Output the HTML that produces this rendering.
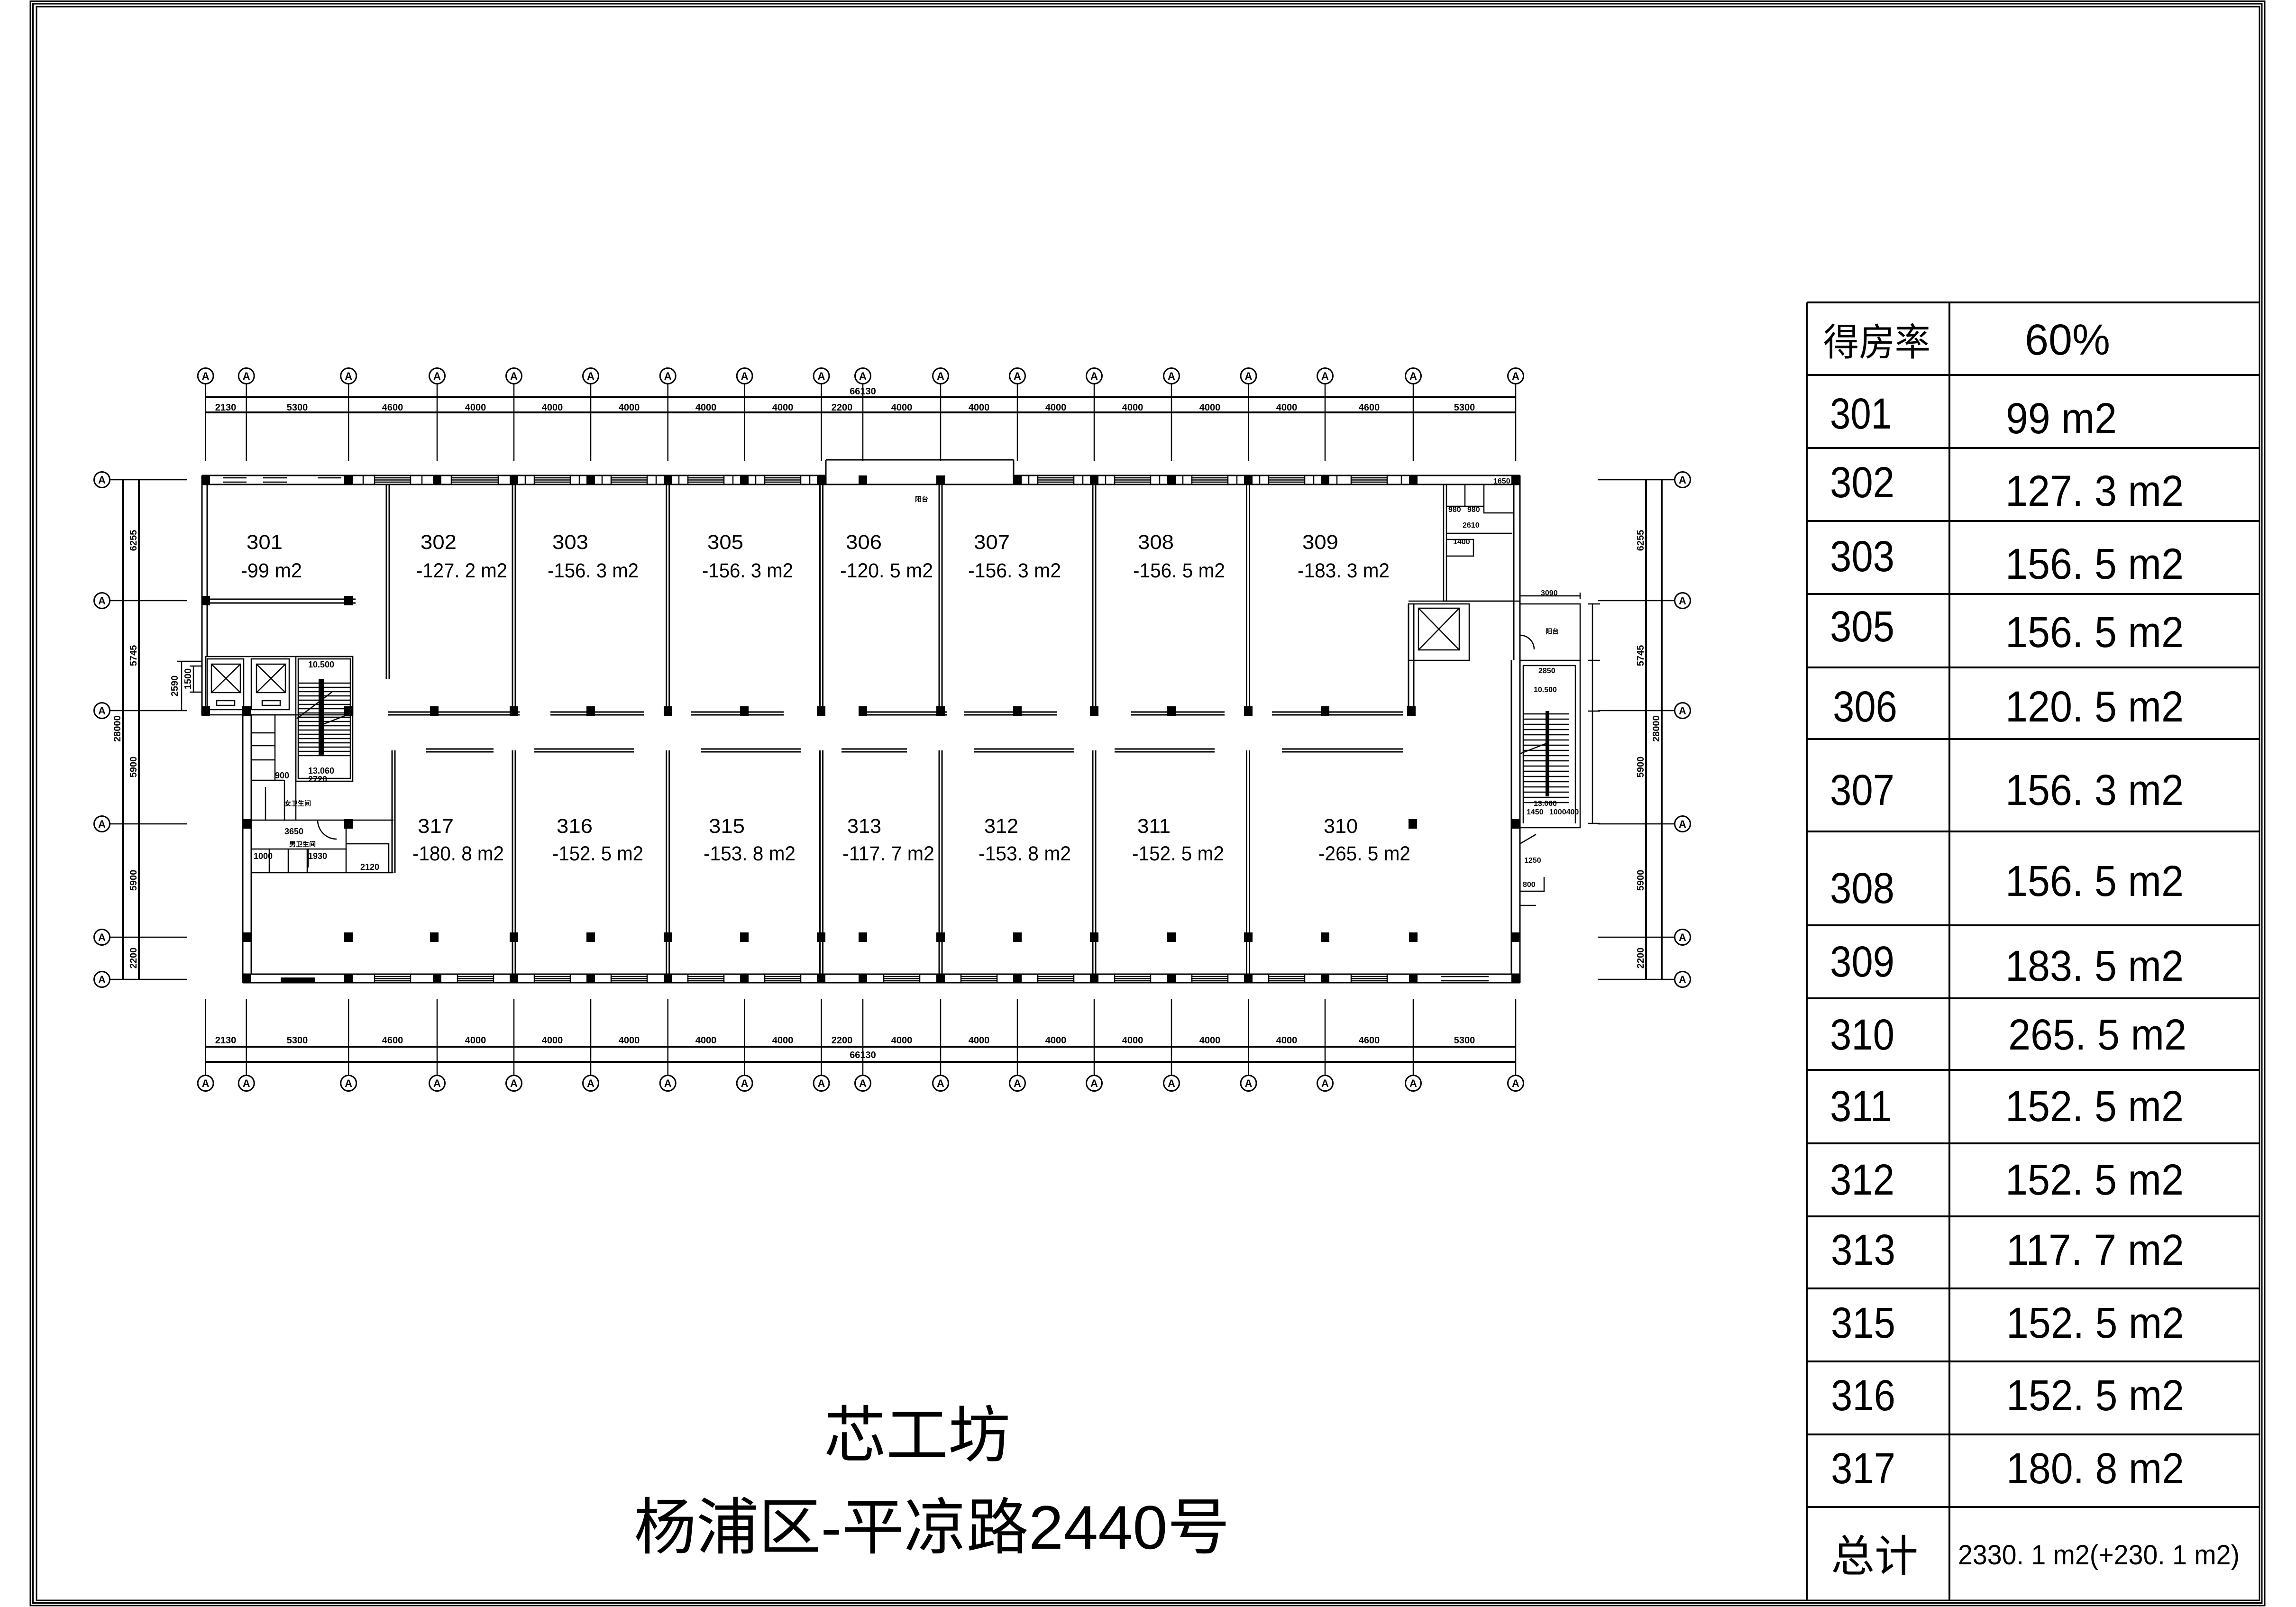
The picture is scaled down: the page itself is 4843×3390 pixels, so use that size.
<!DOCTYPE html>
<html><head><meta charset="utf-8"><style>
html,body{margin:0;padding:0;background:#fff}
svg{display:block}
text{font-family:"Liberation Sans","Noto Sans CJK SC",sans-serif;fill:#000}
</style></head><body>
<svg width="4843" height="3390" viewBox="0 0 4843 3390" xmlns="http://www.w3.org/2000/svg">
<rect width="4843" height="3390" fill="#fff"/>
<!-- border -->
<g fill="none" stroke="#000" stroke-width="3">
<rect x="64" y="2.5" width="4713" height="3384.5"/>
<rect x="69.5" y="8" width="4701.5" height="3373.5"/>
<rect x="77" y="14" width="4689" height="3362"/>
</g>
<!-- table -->
<g stroke="#000" stroke-width="4" fill="none">
<line x1="3811" y1="638" x2="3811" y2="3376"/>
<line x1="4112" y1="638" x2="4112" y2="3376"/>
<line x1="3811" y1="638" x2="4766" y2="638"/>
<line x1="3811" y1="791" x2="4766" y2="791"/>
<line x1="3811" y1="945" x2="4766" y2="945"/>
<line x1="3811" y1="1099" x2="4766" y2="1099"/>
<line x1="3811" y1="1253" x2="4766" y2="1253"/>
<line x1="3811" y1="1408" x2="4766" y2="1408"/>
<line x1="3811" y1="1559" x2="4766" y2="1559"/>
<line x1="3811" y1="1754" x2="4766" y2="1754"/>
<line x1="3811" y1="1952" x2="4766" y2="1952"/>
<line x1="3811" y1="2106" x2="4766" y2="2106"/>
<line x1="3811" y1="2257" x2="4766" y2="2257"/>
<line x1="3811" y1="2412" x2="4766" y2="2412"/>
<line x1="3811" y1="2566" x2="4766" y2="2566"/>
<line x1="3811" y1="2718" x2="4766" y2="2718"/>
<line x1="3811" y1="2872" x2="4766" y2="2872"/>
<line x1="3811" y1="3026" x2="4766" y2="3026"/>
<line x1="3811" y1="3179" x2="4766" y2="3179"/>
</g>
<g font-size="92" lengthAdjust="spacingAndGlyphs">
<text x="3846" y="750" font-size="80" textLength="226" lengthAdjust="spacingAndGlyphs">得房率</text>
<text x="4271" y="748" textLength="180" lengthAdjust="spacingAndGlyphs">60%</text>
<text x="3860" y="904" textLength="130" lengthAdjust="spacingAndGlyphs">301</text>
<text x="4231" y="914" textLength="234" lengthAdjust="spacingAndGlyphs">99 m2</text>
<text x="3860" y="1049" textLength="136" lengthAdjust="spacingAndGlyphs">302</text>
<text x="4230" y="1067" textLength="376" lengthAdjust="spacingAndGlyphs">127. 3 m2</text>
<text x="3860" y="1205" textLength="136" lengthAdjust="spacingAndGlyphs">303</text>
<text x="4230" y="1221" textLength="376" lengthAdjust="spacingAndGlyphs">156. 5 m2</text>
<text x="3860" y="1353" textLength="136" lengthAdjust="spacingAndGlyphs">305</text>
<text x="4230" y="1365" textLength="376" lengthAdjust="spacingAndGlyphs">156. 5 m2</text>
<text x="3866" y="1522" textLength="136" lengthAdjust="spacingAndGlyphs">306</text>
<text x="4230" y="1522" textLength="376" lengthAdjust="spacingAndGlyphs">120. 5 m2</text>
<text x="3860" y="1698" textLength="136" lengthAdjust="spacingAndGlyphs">307</text>
<text x="4230" y="1698" textLength="376" lengthAdjust="spacingAndGlyphs">156. 3 m2</text>
<text x="3860" y="1905" textLength="136" lengthAdjust="spacingAndGlyphs">308</text>
<text x="4230" y="1890" textLength="376" lengthAdjust="spacingAndGlyphs">156. 5 m2</text>
<text x="3860" y="2060" textLength="136" lengthAdjust="spacingAndGlyphs">309</text>
<text x="4230" y="2069" textLength="376" lengthAdjust="spacingAndGlyphs">183. 5 m2</text>
<text x="3860" y="2214" textLength="136" lengthAdjust="spacingAndGlyphs">310</text>
<text x="4236" y="2214" textLength="376" lengthAdjust="spacingAndGlyphs">265. 5 m2</text>
<text x="3860" y="2365" textLength="130" lengthAdjust="spacingAndGlyphs">311</text>
<text x="4230" y="2365" textLength="376" lengthAdjust="spacingAndGlyphs">152. 5 m2</text>
<text x="3860" y="2520" textLength="136" lengthAdjust="spacingAndGlyphs">312</text>
<text x="4230" y="2520" textLength="376" lengthAdjust="spacingAndGlyphs">152. 5 m2</text>
<text x="3862" y="2668" textLength="136" lengthAdjust="spacingAndGlyphs">313</text>
<text x="4232" y="2668" textLength="375" lengthAdjust="spacingAndGlyphs">117. 7 m2</text>
<text x="3862" y="2822" textLength="136" lengthAdjust="spacingAndGlyphs">315</text>
<text x="4232" y="2822" textLength="375" lengthAdjust="spacingAndGlyphs">152. 5 m2</text>
<text x="3862" y="2975" textLength="136" lengthAdjust="spacingAndGlyphs">316</text>
<text x="4232" y="2975" textLength="375" lengthAdjust="spacingAndGlyphs">152. 5 m2</text>
<text x="3862" y="3129" textLength="136" lengthAdjust="spacingAndGlyphs">317</text>
<text x="4232" y="3129" textLength="375" lengthAdjust="spacingAndGlyphs">180. 8 m2</text>
<text x="3862" y="3315" font-size="92" textLength="184" lengthAdjust="spacingAndGlyphs">总计</text>
<text x="4130" y="3300" font-size="58" textLength="594" lengthAdjust="spacingAndGlyphs">2330. 1 m2(+230. 1 m2)</text>
</g>
<!-- title -->
<text x="1738" y="3073" font-size="130" textLength="393" lengthAdjust="spacingAndGlyphs">芯工坊</text>
<text x="1337" y="3267" font-size="130" textLength="1257" lengthAdjust="spacingAndGlyphs">杨浦区-平凉路2440号</text>

<!-- ============ PLAN ============ -->
<!-- top axes -->
<g stroke="#000" stroke-width="2.5" fill="none">
<path d="M433.6 810V972M519.7 810V972M735.2 810V972M922 810V972M1084 810V972M1246 810V972M1408.7 810V972M1570.6 810V972M1732.5 810V972M1820 810V972M1984 810V972M2146 810V972M2308 810V972M2471 810V972M2633.5 810V972M2795 810V972M2981 810V972M3197 810V972"/>
<path d="M433.6 2107V2268M519.7 2107V2268M735.2 2107V2268M922 2107V2268M1084 2107V2268M1246 2107V2268M1408.7 2107V2268M1570.6 2107V2268M1732.5 2107V2268M1820 2107V2268M1984 2107V2268M2146 2107V2268M2308 2107V2268M2471 2107V2268M2633.5 2107V2268M2795 2107V2268M2981 2107V2268M3197 2107V2268"/>
<path d="M231 1012H395M231 1267H395M231 1499H395M231 1738H395M231 1977H395M231 2066H395"/>
<path d="M3370 1012H3533M3370 1267H3533M3370 1499H3533M3370 1738H3533M3370 1977H3533M3370 2066H3533"/>
</g>
<g stroke="#000" stroke-width="4">
<path d="M433.6 838H3197M433.6 870H3197M433.6 2208H3197M433.6 2240H3197"/>
<path d="M259 1012V2066M293 1012V2066M3472 1012V2066M3505 1012V2066"/>
</g>
<g fill="#fff" stroke="#000" stroke-width="3">
<circle cx="433.6" cy="793" r="16.5"/><circle cx="519.7" cy="793" r="16.5"/><circle cx="735.2" cy="793" r="16.5"/><circle cx="922" cy="793" r="16.5"/><circle cx="1084" cy="793" r="16.5"/><circle cx="1246" cy="793" r="16.5"/><circle cx="1408.7" cy="793" r="16.5"/><circle cx="1570.6" cy="793" r="16.5"/><circle cx="1732.5" cy="793" r="16.5"/><circle cx="1820" cy="793" r="16.5"/><circle cx="1984" cy="793" r="16.5"/><circle cx="2146" cy="793" r="16.5"/><circle cx="2308" cy="793" r="16.5"/><circle cx="2471" cy="793" r="16.5"/><circle cx="2633.5" cy="793" r="16.5"/><circle cx="2795" cy="793" r="16.5"/><circle cx="2981" cy="793" r="16.5"/><circle cx="3197" cy="793" r="16.5"/>
<circle cx="433.6" cy="2285" r="16.5"/><circle cx="519.7" cy="2285" r="16.5"/><circle cx="735.2" cy="2285" r="16.5"/><circle cx="922" cy="2285" r="16.5"/><circle cx="1084" cy="2285" r="16.5"/><circle cx="1246" cy="2285" r="16.5"/><circle cx="1408.7" cy="2285" r="16.5"/><circle cx="1570.6" cy="2285" r="16.5"/><circle cx="1732.5" cy="2285" r="16.5"/><circle cx="1820" cy="2285" r="16.5"/><circle cx="1984" cy="2285" r="16.5"/><circle cx="2146" cy="2285" r="16.5"/><circle cx="2308" cy="2285" r="16.5"/><circle cx="2471" cy="2285" r="16.5"/><circle cx="2633.5" cy="2285" r="16.5"/><circle cx="2795" cy="2285" r="16.5"/><circle cx="2981" cy="2285" r="16.5"/><circle cx="3197" cy="2285" r="16.5"/>
<circle cx="215" cy="1012" r="16.5"/><circle cx="215" cy="1267" r="16.5"/><circle cx="215" cy="1499" r="16.5"/><circle cx="215" cy="1738" r="16.5"/><circle cx="215" cy="1977" r="16.5"/><circle cx="215" cy="2066" r="16.5"/>
<circle cx="3549" cy="1012" r="16.5"/><circle cx="3549" cy="1267" r="16.5"/><circle cx="3549" cy="1499" r="16.5"/><circle cx="3549" cy="1738" r="16.5"/><circle cx="3549" cy="1977" r="16.5"/><circle cx="3549" cy="2066" r="16.5"/>
</g>
<g font-size="22" text-anchor="middle" font-weight="bold">
<text x="433.6" y="801">A</text><text x="519.7" y="801">A</text><text x="735.2" y="801">A</text><text x="922" y="801">A</text><text x="1084" y="801">A</text><text x="1246" y="801">A</text><text x="1408.7" y="801">A</text><text x="1570.6" y="801">A</text><text x="1732.5" y="801">A</text><text x="1820" y="801">A</text><text x="1984" y="801">A</text><text x="2146" y="801">A</text><text x="2308" y="801">A</text><text x="2471" y="801">A</text><text x="2633.5" y="801">A</text><text x="2795" y="801">A</text><text x="2981" y="801">A</text><text x="3197" y="801">A</text>
<text x="433.6" y="2293">A</text><text x="519.7" y="2293">A</text><text x="735.2" y="2293">A</text><text x="922" y="2293">A</text><text x="1084" y="2293">A</text><text x="1246" y="2293">A</text><text x="1408.7" y="2293">A</text><text x="1570.6" y="2293">A</text><text x="1732.5" y="2293">A</text><text x="1820" y="2293">A</text><text x="1984" y="2293">A</text><text x="2146" y="2293">A</text><text x="2308" y="2293">A</text><text x="2471" y="2293">A</text><text x="2633.5" y="2293">A</text><text x="2795" y="2293">A</text><text x="2981" y="2293">A</text><text x="3197" y="2293">A</text>
<text x="215" y="1020">A</text><text x="215" y="1275">A</text><text x="215" y="1507">A</text><text x="215" y="1746">A</text><text x="215" y="1985">A</text><text x="215" y="2074">A</text>
<text x="3549" y="1020">A</text><text x="3549" y="1275">A</text><text x="3549" y="1507">A</text><text x="3549" y="1746">A</text><text x="3549" y="1985">A</text><text x="3549" y="2074">A</text>
</g>
<!-- dim texts -->
<g font-size="20" text-anchor="middle" font-weight="bold">
<text x="476" y="866">2130</text><text x="627" y="866">5300</text><text x="828" y="866">4600</text><text x="1003" y="866">4000</text><text x="1165" y="866">4000</text><text x="1327" y="866">4000</text><text x="1489" y="866">4000</text><text x="1651" y="866">4000</text><text x="1776" y="866">2200</text><text x="1902" y="866">4000</text><text x="2065" y="866">4000</text><text x="2227" y="866">4000</text><text x="2389" y="866">4000</text><text x="2552" y="866">4000</text><text x="2714" y="866">4000</text><text x="2888" y="866">4600</text><text x="3089" y="866">5300</text>
<text x="1820" y="832">66130</text>
<text x="476" y="2201">2130</text><text x="627" y="2201">5300</text><text x="828" y="2201">4600</text><text x="1003" y="2201">4000</text><text x="1165" y="2201">4000</text><text x="1327" y="2201">4000</text><text x="1489" y="2201">4000</text><text x="1651" y="2201">4000</text><text x="1776" y="2201">2200</text><text x="1902" y="2201">4000</text><text x="2065" y="2201">4000</text><text x="2227" y="2201">4000</text><text x="2389" y="2201">4000</text><text x="2552" y="2201">4000</text><text x="2714" y="2201">4000</text><text x="2888" y="2201">4600</text><text x="3089" y="2201">5300</text>
<text x="1820" y="2232">66130</text>
<text transform="translate(288 1140) rotate(-90)">6255</text>
<text transform="translate(288 1383) rotate(-90)">5745</text>
<text transform="translate(288 1618) rotate(-90)">5900</text>
<text transform="translate(288 1857) rotate(-90)">5900</text>
<text transform="translate(288 2021) rotate(-90)">2200</text>
<text transform="translate(254 1537) rotate(-90)">28000</text>
<text transform="translate(3467 1140) rotate(-90)">6255</text>
<text transform="translate(3467 1383) rotate(-90)">5745</text>
<text transform="translate(3467 1618) rotate(-90)">5900</text>
<text transform="translate(3467 1857) rotate(-90)">5900</text>
<text transform="translate(3467 2021) rotate(-90)">2200</text>
<text transform="translate(3500 1537) rotate(-90)">28000</text>
<text transform="translate(375 1447) rotate(-90)">2590</text>
<text transform="translate(403 1432) rotate(-90)">1500</text>
</g>
<g stroke="#000" stroke-width="2.5"><path d="M383 1395V1498M374 1395H426M408 1405V1460M400 1405H426M400 1460H426"/></g>

<!-- walls -->
<g stroke="#000" stroke-width="3" fill="none">
<!-- top wall -->
<path d="M426 1003H1742M426 1022H1742M2138 1003H3206M2138 1022H3206"/>
<path d="M1742 970H2138M1742 970V1022M2138 970V1022M1742 1022H2138"/>
<!-- 301 left wall -->
<path d="M426 1003V1508M437 1022V1385"/>
<!-- 301 bottom wall -->
<path d="M437 1264H750M437 1272H750"/>
<!-- bottom wall -->
<path d="M512 2055H3206M512 2073H3206"/>
<!-- lower left wall -->
<path d="M512 1508V2073M530 1508V2055"/>
<!-- right wall -->
<path d="M3193 1022V1393M3206 1003V2073M3188 1393V2055"/>
<!-- upper partitions -->
<path d="M815 1022V1433M821 1022V1433M1081 1022V1505M1087 1022V1505M1405.7 1022V1505M1411.7 1022V1505M1729.5 1022V1505M1735.5 1022V1505M1981 1022V1505M1987 1022V1505M2305 1022V1505M2311 1022V1505M2629.5 1022V1505M2635.5 1022V1505M2971 1274V1506M2982 1274V1506"/>
<!-- lower partitions -->
<path d="M1081 1583V2055M1087 1583V2055M1405.7 1583V2055M1411.7 1583V2055M1729.5 1583V2055M1735.5 1583V2055M1981 1583V2055M1987 1583V2055M2305 1583V2055M2311 1583V2055M2629.5 1583V2055M2635.5 1583V2055M827 1583V1841M833 1583V1841"/>
<!-- corridor walls -->
<path d="M818 1502H1096M818 1508H1096M1161 1502H1358M1161 1508H1358M1457 1502H1653M1457 1508H1653M1811 1502H1998M1811 1508H1998M2034 1502H2230M2034 1508H2230M2386 1502H2583M2386 1508H2583M2683 1502H2960M2683 1508H2960"/>
<path d="M899 1580H1041M899 1586H1041M1127 1580H1337M1127 1586H1337M1478 1580H1689M1478 1586H1689M1775 1580H1913M1775 1586H1913M2055 1580H2266M2055 1586H2266M2351 1580H2562M2351 1586H2562M2704 1580H2960M2704 1586H2960"/>
</g>
<!-- windows top -->
<g stroke="#000" stroke-width="2.5" fill="none">
<path d="M790 1008H866M790 1012.5H866M790 1017H866M952 1008H1051M952 1012.5H1051M952 1017H1051M1127 1008H1203M1127 1012.5H1203M1127 1017H1203M1289 1008H1365M1289 1012.5H1365M1289 1017H1365M1451 1008H1527M1451 1012.5H1527M1451 1017H1527M1613 1008H1689M1613 1012.5H1689M1613 1017H1689M2189 1008H2265M2189 1012.5H2265M2189 1017H2265M2351 1008H2427M2351 1012.5H2427M2351 1017H2427M2514 1008H2590M2514 1012.5H2590M2514 1017H2590M2676 1008H2752M2676 1012.5H2752M2676 1017H2752M2850 1008H2926M2850 1012.5H2926M2850 1017H2926"/>
<path d="M790 1003V1022M866 1003V1022M766 1003V1022M890 1003V1022M952 1003V1022M1051 1003V1022M1127 1003V1022M1203 1003V1022M1289 1003V1022M1365 1003V1022M1451 1003V1022M1527 1003V1022M1613 1003V1022M1689 1003V1022M2189 1003V1022M2265 1003V1022M2351 1003V1022M2427 1003V1022M2514 1003V1022M2590 1003V1022M2676 1003V1022M2752 1003V1022M2850 1003V1022M2926 1003V1022M1108 1003V1022M1222 1003V1022M1270 1003V1022M1384 1003V1022M1432 1003V1022M1546 1003V1022M1594 1003V1022M1708 1003V1022M2170 1003V1022M2284 1003V1022M2332 1003V1022M2446 1003V1022M2495 1003V1022M2609 1003V1022M2657 1003V1022M2771 1003V1022M2820 1003V1022M2956 1003V1022"/>
<path d="M470 1008H520M470 1017H520M555 1008H605M555 1017H605M670 1008H720"/>
<!-- windows bottom -->
<path d="M790 2060H866M790 2064.5H866M790 2069H866M965 2060H1041M965 2064.5H1041M965 2069H1041M1127 2060H1203M1127 2064.5H1203M1127 2069H1203M1289 2060H1365M1289 2064.5H1365M1289 2069H1365M1451 2060H1527M1451 2064.5H1527M1451 2069H1527M1613 2060H1689M1613 2064.5H1689M1613 2069H1689M1864 2060H1940M1864 2064.5H1940M1864 2069H1940M2027 2060H2103M2027 2064.5H2103M2027 2069H2103M2189 2060H2265M2189 2064.5H2265M2189 2069H2265M2351 2060H2427M2351 2064.5H2427M2351 2069H2427M2514 2060H2590M2514 2064.5H2590M2514 2069H2590M2676 2060H2752M2676 2064.5H2752M2676 2069H2752M2850 2060H2926M2850 2064.5H2926M2850 2069H2926M3040 2060H3140M3040 2069H3140"/>
<path d="M790 2055V2073M866 2055V2073M965 2055V2073M1041 2055V2073M1127 2055V2073M1203 2055V2073M1289 2055V2073M1365 2055V2073M1451 2055V2073M1527 2055V2073M1613 2055V2073M1689 2055V2073M1864 2055V2073M1940 2055V2073M2027 2055V2073M2103 2055V2073M2189 2055V2073M2265 2055V2073M2351 2055V2073M2427 2055V2073M2514 2055V2073M2590 2055V2073M2676 2055V2073M2752 2055V2073M2850 2055V2073M2926 2055V2073"/>
</g>
<rect x="592" y="2062" width="72" height="9" fill="#000"/>
<!-- columns -->
<g fill="#000">
<rect x="425" y="1003" width="18" height="20"/><rect x="726" y="1003" width="18" height="20"/><rect x="913" y="1003" width="18" height="20"/><rect x="1075" y="1003" width="18" height="20"/><rect x="1237" y="1003" width="18" height="20"/><rect x="1400" y="1003" width="18" height="20"/><rect x="1561" y="1003" width="18" height="20"/><rect x="1723" y="1003" width="18" height="20"/><rect x="1811" y="1003" width="18" height="20"/><rect x="1975" y="1003" width="18" height="20"/><rect x="2137" y="1003" width="18" height="20"/><rect x="2299" y="1003" width="18" height="20"/><rect x="2462" y="1003" width="18" height="20"/><rect x="2624" y="1003" width="18" height="20"/><rect x="2786" y="1003" width="18" height="20"/><rect x="2972" y="1003" width="18" height="20"/><rect x="3188" y="1003" width="18" height="20"/>
<rect x="425" y="1257" width="18" height="20"/><rect x="726" y="1257" width="18" height="20"/>
<rect x="425" y="1490" width="18" height="20"/><rect x="511" y="1490" width="18" height="20"/><rect x="726" y="1490" width="18" height="20"/><rect x="907" y="1490" width="18" height="20"/><rect x="1075" y="1490" width="18" height="20"/><rect x="1237" y="1490" width="18" height="20"/><rect x="1400" y="1490" width="18" height="20"/><rect x="1561" y="1490" width="18" height="20"/><rect x="1723" y="1490" width="18" height="20"/><rect x="1811" y="1490" width="18" height="20"/><rect x="1975" y="1490" width="18" height="20"/><rect x="2137" y="1490" width="18" height="20"/><rect x="2299" y="1490" width="18" height="20"/><rect x="2462" y="1490" width="18" height="20"/><rect x="2624" y="1490" width="18" height="20"/><rect x="2786" y="1490" width="18" height="20"/><rect x="2968" y="1490" width="18" height="20"/>
<rect x="511" y="1728" width="18" height="20"/><rect x="726" y="1728" width="18" height="20"/><rect x="2971" y="1728" width="18" height="20"/><rect x="3188" y="1728" width="18" height="20"/>
<rect x="511" y="1967" width="18" height="20"/><rect x="726" y="1967" width="18" height="20"/><rect x="907" y="1967" width="18" height="20"/><rect x="1075" y="1967" width="18" height="20"/><rect x="1237" y="1967" width="18" height="20"/><rect x="1400" y="1967" width="18" height="20"/><rect x="1561" y="1967" width="18" height="20"/><rect x="1723" y="1967" width="18" height="20"/><rect x="1811" y="1967" width="18" height="20"/><rect x="1975" y="1967" width="18" height="20"/><rect x="2137" y="1967" width="18" height="20"/><rect x="2299" y="1967" width="18" height="20"/><rect x="2462" y="1967" width="18" height="20"/><rect x="2624" y="1967" width="18" height="20"/><rect x="2786" y="1967" width="18" height="20"/><rect x="2972" y="1967" width="18" height="20"/><rect x="3188" y="1967" width="18" height="20"/>
<rect x="511" y="2055" width="18" height="18"/><rect x="726" y="2055" width="18" height="18"/><rect x="913" y="2055" width="18" height="18"/><rect x="1075" y="2055" width="18" height="18"/><rect x="1237" y="2055" width="18" height="18"/><rect x="1400" y="2055" width="18" height="18"/><rect x="1561" y="2055" width="18" height="18"/><rect x="1723" y="2055" width="18" height="18"/><rect x="1811" y="2055" width="18" height="18"/><rect x="1975" y="2055" width="18" height="18"/><rect x="2137" y="2055" width="18" height="18"/><rect x="2299" y="2055" width="18" height="18"/><rect x="2462" y="2055" width="18" height="18"/><rect x="2624" y="2055" width="18" height="18"/><rect x="2786" y="2055" width="18" height="18"/><rect x="2972" y="2055" width="18" height="18"/><rect x="3188" y="2055" width="18" height="18"/>
</g>
<!-- left core -->
<g stroke="#000" stroke-width="2.5" fill="none">
<rect x="434" y="1385" width="310" height="123"/>
<rect x="437" y="1390" width="77" height="107"/><rect x="530" y="1390" width="80" height="107"/>
<rect x="446" y="1401" width="61" height="60"/><path d="M446 1401L507 1461M507 1401L446 1461"/>
<rect x="541" y="1401" width="61" height="60"/><path d="M541 1401L602 1461M602 1401L541 1461"/>
<rect x="457" y="1478" width="38" height="10"/><rect x="553" y="1478" width="38" height="10"/>
<rect x="624" y="1385" width="120" height="263"/><rect x="629" y="1390" width="110" height="252"/>
<path d="M629 1441H739M629 1450H739M629 1459H739M629 1468H739M629 1477H739M629 1486H739M629 1495H739M629 1504H739M629 1513H739M629 1522H739M629 1531H739M629 1540H739M629 1549H739M629 1558H739M629 1567H739M629 1576H739M629 1585H739M629 1594H739"/>
<path d="M626 1516L700 1460M676 1530L740 1505"/>
<path d="M530 1508H624V1730M580 1508V1646M530 1546H580M530 1573H580M530 1603H580M530 1646H600M600 1646V1730M560 1660V1730M530 1730H830M530 1841H830M530 1791H730M568 1791V1841M608 1791V1841M648 1791V1841M650 1791V1830M730 1730V1841M730 1780H820V1841M820 1780V1841M670 1730A40 40 0 0 0 710 1770"/>
</g>
<rect x="672" y="1432" width="12" height="160" fill="#000"/>
<g font-size="18" font-weight="bold">
<text x="650" y="1408">10.500</text><text x="650" y="1632">13.060</text><text x="650" y="1650">2720</text>
<text x="580" y="1642">900</text><text x="600" y="1700" font-size="14">女卫生间</text>
<text x="600" y="1760">3650</text><text x="610" y="1786" font-size="14">男卫生间</text>
<text x="535" y="1812">1000</text><text x="650" y="1812">1930</text><text x="760" y="1835">2120</text>
</g>
<!-- right core -->
<g stroke="#000" stroke-width="2.5" fill="none">
<rect x="3045" y="1022" width="148" height="246"/>
<path d="M3051 1022V1268M3051 1068H3130M3090 1022V1068M3130 1022V1068M3130 1068V1082H3193M3051 1125H3190M3051 1138H3108V1173H3051M2971 1268H3206"/>
<rect x="2971" y="1274" width="128" height="119"/><rect x="2992" y="1283" width="86" height="88"/>
<path d="M2992 1283L3078 1371M3078 1283L2992 1371"/>
<rect x="3206" y="1274" width="127" height="472"/>
<path d="M3206 1393H3333M3213 1404H3323V1737M3213 1404V1737"/>
<path d="M3213 1506H3310M3213 1517H3310M3213 1528H3310M3213 1539H3310M3213 1550H3310M3213 1561H3310M3213 1572H3310M3213 1583H3310M3213 1594H3310M3213 1605H3310M3213 1616H3310M3213 1627H3310M3213 1638H3310M3213 1649H3310M3213 1660H3310M3213 1671H3310M3213 1682H3310M3213 1693H3310"/>
<path d="M3206 1590L3265 1567M3359 1274V1737M3350 1274H3375M3350 1393H3375M3350 1500H3375M3350 1737H3375M3206 1257H3333M3333 1250V1264"/>
<path d="M3206 1340A30 30 0 0 1 3236 1370M3206 1780L3240 1760M3206 1880H3257V1850M3206 1910H3240"/>
</g>
<rect x="3260" y="1500" width="8" height="180" fill="#000"/>
<g font-size="16" font-weight="bold">
<text x="3150" y="1020">1650</text><text x="3055" y="1080">980</text><text x="3095" y="1080">980</text>
<text x="3085" y="1113">2610</text><text x="3065" y="1148">1400</text><text x="3250" y="1256">3090</text>
<text x="3245" y="1420">2850</text><text x="3235" y="1460">10.500</text><text x="3235" y="1700">13.060</text>
<text x="3220" y="1718">1450</text><text x="3268" y="1718">1000400</text><text x="3215" y="1820">1250</text>
<text x="3212" y="1871">800</text><text x="3260" y="1337" font-size="14">阳台</text>
<text x="1930" y="1058" font-size="14">阳台</text>
</g>

<!-- room labels -->
<g font-size="43">
<text x="520" y="1158" textLength="76" lengthAdjust="spacingAndGlyphs">301</text>
<text x="508" y="1218" textLength="129" lengthAdjust="spacingAndGlyphs">-99 m2</text>
<text x="887" y="1158" textLength="76" lengthAdjust="spacingAndGlyphs">302</text>
<text x="878" y="1218" textLength="192" lengthAdjust="spacingAndGlyphs">-127. 2 m2</text>
<text x="1165" y="1158" textLength="76" lengthAdjust="spacingAndGlyphs">303</text>
<text x="1155" y="1218" textLength="192" lengthAdjust="spacingAndGlyphs">-156. 3 m2</text>
<text x="1492" y="1158" textLength="76" lengthAdjust="spacingAndGlyphs">305</text>
<text x="1481" y="1218" textLength="192" lengthAdjust="spacingAndGlyphs">-156. 3 m2</text>
<text x="1784" y="1158" textLength="76" lengthAdjust="spacingAndGlyphs">306</text>
<text x="1772" y="1218" textLength="196" lengthAdjust="spacingAndGlyphs">-120. 5 m2</text>
<text x="2054" y="1158" textLength="76" lengthAdjust="spacingAndGlyphs">307</text>
<text x="2042" y="1218" textLength="196" lengthAdjust="spacingAndGlyphs">-156. 3 m2</text>
<text x="2400" y="1158" textLength="76" lengthAdjust="spacingAndGlyphs">308</text>
<text x="2390" y="1218" textLength="194" lengthAdjust="spacingAndGlyphs">-156. 5 m2</text>
<text x="2747" y="1158" textLength="76" lengthAdjust="spacingAndGlyphs">309</text>
<text x="2737" y="1218" textLength="194" lengthAdjust="spacingAndGlyphs">-183. 3 m2</text>
<text x="881" y="1757" textLength="76" lengthAdjust="spacingAndGlyphs">317</text>
<text x="870" y="1815" textLength="193" lengthAdjust="spacingAndGlyphs">-180. 8 m2</text>
<text x="1174" y="1757" textLength="76" lengthAdjust="spacingAndGlyphs">316</text>
<text x="1165" y="1815" textLength="192" lengthAdjust="spacingAndGlyphs">-152. 5 m2</text>
<text x="1495" y="1757" textLength="76" lengthAdjust="spacingAndGlyphs">315</text>
<text x="1484" y="1815" textLength="194" lengthAdjust="spacingAndGlyphs">-153. 8 m2</text>
<text x="1787" y="1757" textLength="72" lengthAdjust="spacingAndGlyphs">313</text>
<text x="1777" y="1815" textLength="194" lengthAdjust="spacingAndGlyphs">-117. 7 m2</text>
<text x="2076" y="1757" textLength="72" lengthAdjust="spacingAndGlyphs">312</text>
<text x="2064" y="1815" textLength="195" lengthAdjust="spacingAndGlyphs">-153. 8 m2</text>
<text x="2399" y="1757" textLength="70" lengthAdjust="spacingAndGlyphs">311</text>
<text x="2388" y="1815" textLength="194" lengthAdjust="spacingAndGlyphs">-152. 5 m2</text>
<text x="2792" y="1757" textLength="72" lengthAdjust="spacingAndGlyphs">310</text>
<text x="2781" y="1815" textLength="194" lengthAdjust="spacingAndGlyphs">-265. 5 m2</text>
</g>
</svg>
</body></html>
